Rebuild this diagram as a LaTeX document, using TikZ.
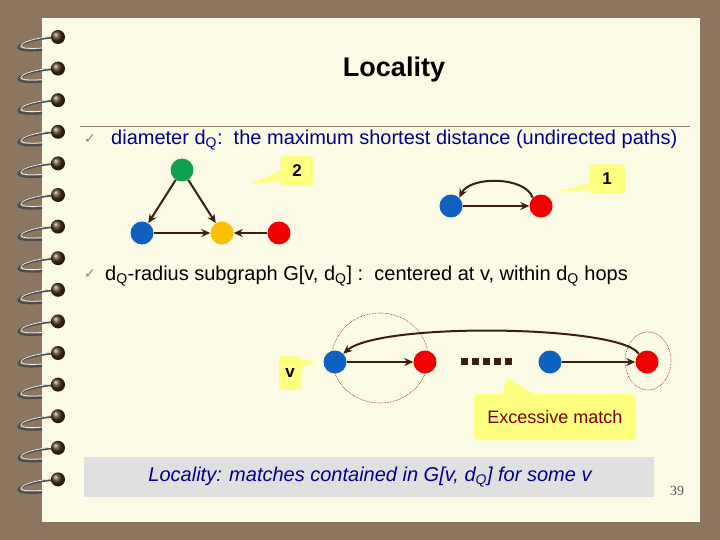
\documentclass[tikz,border=0pt]{standalone}
\usepackage{fontspec}
\setmainfont{Liberation Sans}
\newfontfamily\seriffont{Liberation Serif}
\newfontfamily\symfont{DejaVu Sans}
\usetikzlibrary{arrows.meta}
\definecolor{bgbrown}{HTML}{8C7660}
\definecolor{paper}{HTML}{FBFBE6}
\definecolor{ttblue}{HTML}{00008B}
\definecolor{nblue}{HTML}{1060C0}
\definecolor{nred}{HTML}{F00000}
\definecolor{ngreen}{HTML}{10A050}
\definecolor{nyellow}{HTML}{F8C000}
\definecolor{callout}{HTML}{FFFF80}
\definecolor{edgec}{HTML}{3A2010}
\definecolor{exred}{HTML}{800000}
\tikzset{
  dot/.style={circle,minimum size=23pt,inner sep=0pt},
  edge/.style={draw=edgec,line width=2pt,-{Stealth[length=9pt,width=8pt]}},
  callbox/.style={fill=callout,rounded corners=3pt,font=\bfseries\fontsize{17}{20}\selectfont,inner sep=0pt},
  ring/.style={draw=exred,densely dotted,line width=0.6pt},
  body/.style={font=\fontsize{20}{24}\selectfont,anchor=west,inner sep=0pt}
}
\begin{document}
\begin{tikzpicture}[x=1pt,y=-1pt]
\useasboundingbox (0,0) rectangle (720,540);
\fill[bgbrown] (0,0) rectangle (720,540);
\fill[paper] (42,18) rectangle (700,522);
% spiral rings
\foreach \i in {0,...,14}{
  \pgfmathsetmacro{\yy}{37+31.6*\i}
  \draw[line width=2.2pt,black!70] (58,\yy) .. controls (20,\yy+2) and (0,\yy+16) .. (42,\yy+13);
  \draw[line width=0.8pt,white!85!gray] (58,\yy-1) .. controls (22,\yy+1) and (4,\yy+14) .. (42,\yy+11);
  \shade[ball color=brown!40!black] (58,\yy) circle (7pt);
}
\node[font=\bfseries\fontsize{27}{32}\selectfont] (title) at (394,70) {Locality};
\draw[gray!70!brown,line width=0.8pt] (80,126) -- (690,126);
\node[text=gray!60!brown,font=\symfont\fontsize{14}{16}\selectfont] (ck1) at (90,139) {✓};
\node[body,text=ttblue] (t1) at (111,140) {diameter d\textsubscript{Q}:\ \ the maximum shortest distance (undirected paths)};
% callouts 2 and 1
\fill[callout] (283,170) -- (250,184) -- (292,180) -- cycle;
\node[callbox,minimum width=33pt,minimum height=30pt] (c2) at (297,171) {2};
\fill[callout] (592,182) -- (560,191) -- (600,190) -- cycle;
\node[callbox,minimum width=36pt,minimum height=29pt] (c1) at (607,179) {1};
% triangle graph
\node[dot,fill=ngreen] (g) at (182,170) {};
\node[dot,fill=nblue] (b1) at (142,233) {};
\node[dot,fill=nyellow] (y) at (222,233) {};
\node[dot,fill=nred] (r1) at (279,233) {};
\draw[edge] (g) -- (b1);
\draw[edge] (g) -- (y);
\draw[edge] (b1) -- (y);
\draw[edge] (r1) -- (y);
% pair
\node[dot,fill=nblue] (b2) at (451,206) {};
\node[dot,fill=nred] (r2) at (541,206) {};
\draw[edge] (b2) -- (r2);
\draw[edge] (r2.north west) .. controls (525,176) and (470,176) .. (b2.north east);
% second bullet
\node[text=gray!60!brown,font=\symfont\fontsize{14}{16}\selectfont] (ck2) at (90,274) {✓};
\node[body] (t2) at (105,276) {d\textsubscript{Q}-radius subgraph G[v, d\textsubscript{Q}] :\ \ centered at v, within d\textsubscript{Q} hops};
% bottom graph
\draw[ring] (380,358) ellipse (48 and 45);
\draw[ring] (648,361) ellipse (23 and 29);
\node[dot,fill=nblue] (b3) at (335,362) {};
\node[dot,fill=nred] (r3) at (425,362) {};
\node[dot,fill=nblue] (b4) at (550,362) {};
\node[dot,fill=nred] (r4) at (647,362) {};
\foreach \k in {0,...,4} \fill[edgec] (461+11*\k,358) rectangle ++(7,7);
\draw[edge] (b3) -- (r3);
\draw[edge] (b4) -- (r4);
\draw[edge] (r4.north west) .. controls (620,325) and (380,322) .. (b3.north east);
% v callout
\fill[callout] (295,358) -- (316,362) -- (295,370) -- cycle;
\node[callbox,minimum width=22pt,minimum height=34pt] (vc) at (290,373) {v};
% excessive match callout
\fill[callout] (500,398) -- (508,378) -- (540,398) -- cycle;
\node[fill=callout,rounded corners=5pt,minimum width=162pt,minimum height=46pt,inner sep=0pt,text=exred,font=\fontsize{18}{21}\selectfont] (ex) at (555,417) {Excessive match};
% bottom banner
\node[fill=black!12,minimum width=570pt,minimum height=40pt,inner sep=0pt] (ban) at (369,477) {};
\node[text=ttblue,font=\itshape\fontsize{20}{24}\selectfont] (bt) at (370,477) {Locality: matches contained in G[v, d\textsubscript{Q}] for some v};
\node[text=gray!70!black,font=\seriffont\fontsize{14}{16}\selectfont] (pg) at (677,491) {39};
\end{tikzpicture}
\end{document}
